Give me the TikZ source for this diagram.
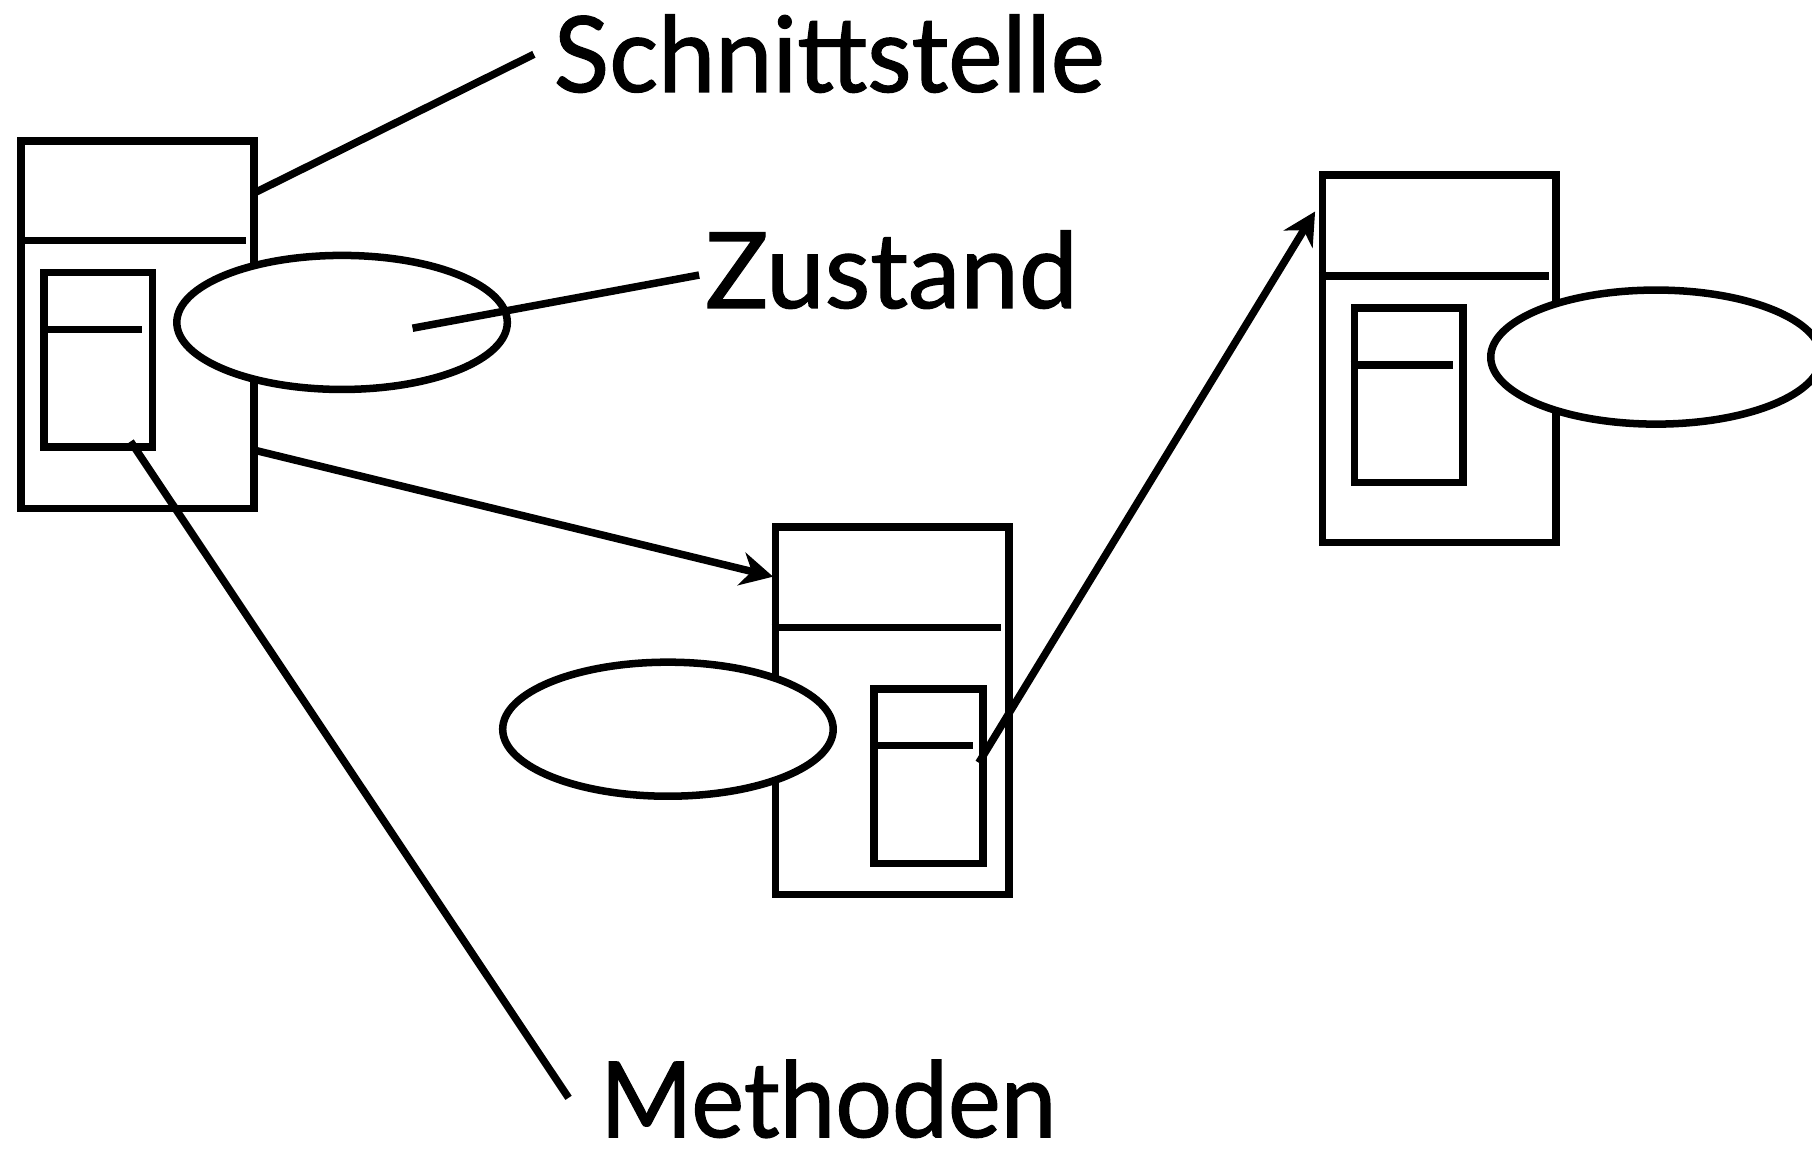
\documentclass[tikz,border=0pt]{standalone}
\usepackage{fontspec}
\setmainfont{Lato}[FakeBold=1.2]
\usetikzlibrary{arrows.meta,shapes.geometric}
\begin{document}
\begin{tikzpicture}[x=1pt,y=-1pt,
  lw/.style={line width=6.5pt},
  outerbox/.style={draw,rectangle,minimum width=202pt,minimum height=318pt,inner sep=0pt,lw},
  innerbox/.style={draw,rectangle,minimum width=94pt,minimum height=151pt,inner sep=0pt,lw},
  blob/.style={draw,ellipse,fill=white,minimum width=286pt,minimum height=116pt,inner sep=0pt,lw},
  label/.style={anchor=base west,inner sep=0pt,font=\fontsize{91}{100}\selectfont},
  conn/.style={lw},
  arr/.style={lw,-{Stealth[length=28pt,width=29pt,inset=9pt]}}
]
\useasboundingbox (0,0) rectangle (1568,994);
% object 1
\node[outerbox] (b1) at (119,281) {};
\node[innerbox] (i1) at (85,311.5) {};
\draw[lw] (b1.west |- 0,208) -- (213,208);
\draw[lw] (i1.west |- 0,285) -- (123,285);
\node[blob] (e1) at (296,279) {};
% object 2
\node[outerbox] (b2) at (772,615) {};
\node[innerbox] (i2) at (803.5,671.5) {};
\draw[lw] (b2.west |- 0,543) -- (866,543);
\draw[lw] (i2.west |- 0,645) -- (842,645);
\node[blob] (e2) at (578,631) {};
% object 3
\node[outerbox] (b3) at (1245.5,310.5) {};
\node[innerbox] (i3) at (1219,342) {};
\draw[lw] (b3.west |- 0,239) -- (1340,239);
\draw[lw] (i3.west |- 0,316) -- (1257,316);
\node[blob] (e3) at (1433,309) {};
% labels
\node[label] (schn) at (479,79.5) {\scalebox{0.975}[1]{Schnittstelle}};
\node[label] (zust) at (610,266.5) {Zustand};
\node[label] (meth) at (519,984) {\scalebox{0.95}[1]{Methoden}};
% connectors
\coordinate (s0) at (222,166);
\coordinate (s1) at (462,47);
\draw[conn] (s0) -- (s1);
\coordinate (z0) at (357,284);
\coordinate (z1) at (605,238);
\draw[conn] (z0) -- (z1);
\coordinate (m0) at (113,382);
\coordinate (m1) at (492,950);
\draw[conn] (m0) -- (m1);
\coordinate (a0) at (222,390);
\coordinate (a1) at (669,499);
\draw[arr] (a0) -- (a1);
\coordinate (c0) at (847,660);
\coordinate (c1) at (1138,183);
\draw[arr] (c0) -- (c1);
\end{tikzpicture}
\end{document}
